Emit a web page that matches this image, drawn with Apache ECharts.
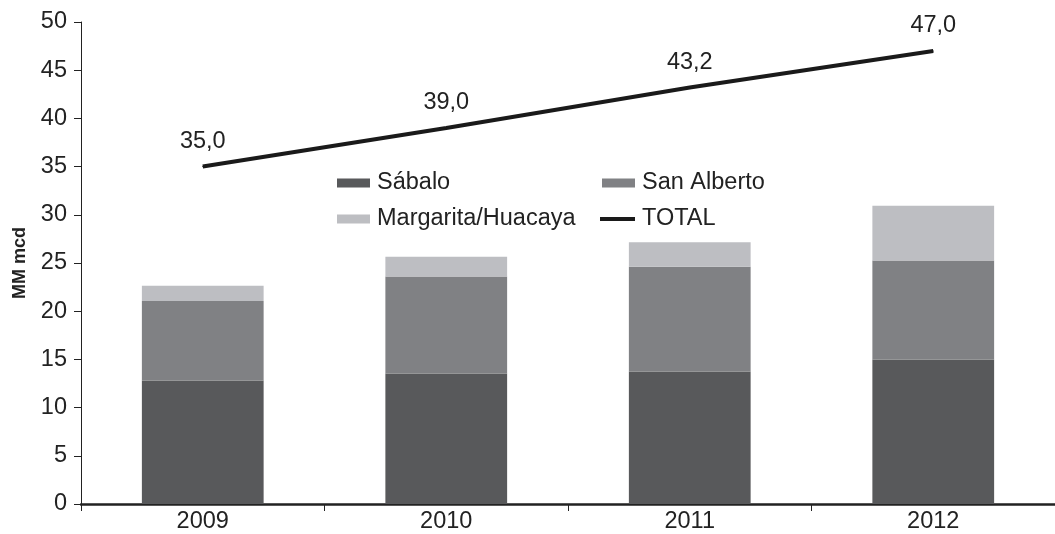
<!DOCTYPE html>
<html><head><meta charset="utf-8">
<script src="https://cdn.jsdelivr.net/npm/echarts@6/dist/echarts.min.js"></script>
<style>html,body{margin:0;padding:0;background:#fff}#c{width:1055px;height:534px}</style>
</head><body><div id="c"></div>
<script>
const categories = ['2009','2010','2011','2012'];
const sabalo = [12.8, 13.55, 13.75, 15.0];
const sanAlberto = [8.25, 10.05, 10.85, 10.25];
const margarita = [1.6, 2.05, 2.55, 5.7];
const total = [35.0, 39.0, 43.2, 47.0];
const yTicks = {min: 0, max: 50, interval: 5};

const FONT = '"Liberation Sans", Arial, sans-serif';
const FS = 23.5;
const chart = echarts.init(document.getElementById('c'));
const legendItem = (name, left, top, line) => ({
  data: [{name, icon: 'rect'}], left, top, itemWidth: line ? 35 : 33, itemHeight: line ? 4 : 9,
  itemGap: 0, selectedMode: false,
  textStyle: {fontFamily: FONT, fontSize: FS, color: '#222', padding: [0,0,0,2]}
});
chart.setOption({
  animation: false,
  grid: {left: 81, top: 22, bottom: 29, width: 983},
  legend: [
    legendItem('Sábalo', 332, 166),
    legendItem('San Alberto', 597, 166),
    legendItem('Margarita/Huacaya', 332, 202),
    legendItem('TOTAL', 595, 202, true)
  ],
  xAxis: {
    type: 'category', data: categories,
    axisLine: {lineStyle: {color: '#222', width: 2.5}},
    axisTick: {show: true, length: 7, lineStyle: {color: '#222', width: 1}},
    axisLabel: {fontFamily: FONT, fontSize: FS, color: '#222', margin: 6}
  },
  yAxis: {
    type: 'value', min: yTicks.min, max: yTicks.max, interval: yTicks.interval,
    name: 'MM mcd', nameLocation: 'middle', nameGap: 52, nameRotate: 90,
    nameTextStyle: {fontFamily: FONT, fontSize: 18, fontWeight: 'bold', color: '#222'},
    axisLine: {show: true, lineStyle: {color: '#222', width: 1}},
    axisTick: {show: true, length: 7, lineStyle: {color: '#222'}},
    splitLine: {show: false},
    axisLabel: {fontFamily: FONT, fontSize: FS, color: '#222', margin: 14}
  },
  series: [
    {name: 'Sábalo', type: 'bar', stack: 's', data: sabalo, barWidth: '50%', itemStyle: {color: '#58595b'}},
    {name: 'San Alberto', type: 'bar', stack: 's', data: sanAlberto, itemStyle: {color: '#808184'}},
    {name: 'Margarita/Huacaya', type: 'bar', stack: 's', data: margarita, itemStyle: {color: '#bdbec2'}},
    {name: 'TOTAL', type: 'line', data: total, symbol: 'circle', symbolSize: 1, showSymbol: true, z: 5,
     lineStyle: {color: '#1a1a1a', width: 4}, itemStyle: {color: '#1a1a1a'},
     label: {show: true, position: 'top', distance: 13, fontFamily: FONT, fontSize: FS, color: '#222',
       formatter: p => p.value.toFixed(1).replace('.', ',')}}
  ]
});
</script></body></html>
